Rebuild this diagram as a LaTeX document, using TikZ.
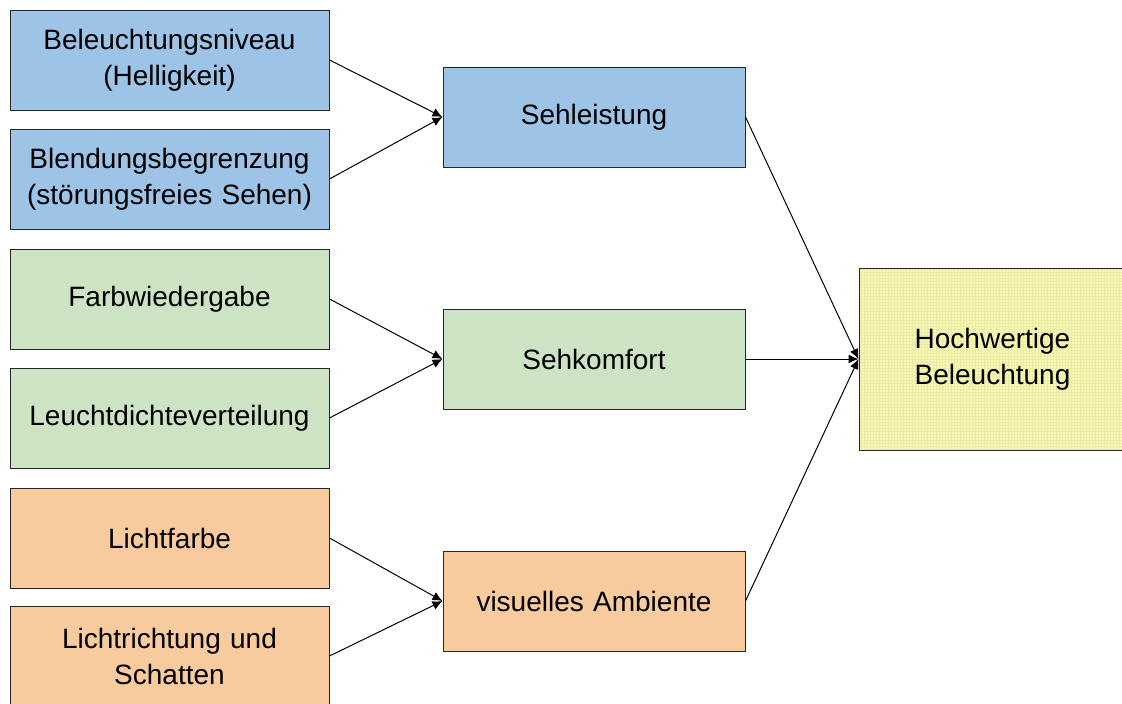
\documentclass[tikz,border=0pt]{standalone}
\usepackage{fontspec}
\setmainfont{Liberation Sans}
\usetikzlibrary{arrows.meta,patterns}
\definecolor{blaufill}{RGB}{157,195,230}
\definecolor{gruenfill}{RGB}{204,228,196}
\definecolor{orangefill}{RGB}{248,203,159}
\definecolor{gelbfill}{RGB}{248,248,186}
\definecolor{gelbgrid}{RGB}{236,236,160}
\tikzset{
    box/.style={draw=black!85,line width=1pt,align=center,inner sep=0pt,
        font=\fontsize{28}{36}\selectfont},
    faktor/.style={box,minimum width=319pt,minimum height=100pt,text width=310pt},
    ziel/.style={box,minimum width=302pt,minimum height=100pt,text width=290pt},
    pfeil/.style={line width=1pt,->}
}
\begin{document}
\begin{tikzpicture}[x=1pt,y=-1pt,>={Latex[length=10pt,width=9pt]}]
\useasboundingbox (0,0) rectangle (1122,704);
% linke Spalte
\node[faktor,fill=blaufill] (niveau) at (169.5,60) {Beleuchtungsniveau\\(Helligkeit)};
\node[faktor,fill=blaufill] (blendung) at (169.5,179) {Blendungsbegrenzung\\(störungsfreies Sehen)};
\node[faktor,fill=gruenfill] (farbwg) at (169.5,299) {Farbwiedergabe};
\node[faktor,fill=gruenfill] (leuchtd) at (169.5,418) {Leuchtdichteverteilung};
\node[faktor,fill=orangefill] (lfarbe) at (169.5,538) {Lichtfarbe};
\node[faktor,fill=orangefill] (lrichtung) at (169.5,656) {Lichtrichtung und\\Schatten};
% mittlere Spalte
\node[ziel,fill=blaufill] (sehl) at (594,117) {Sehleistung};
\node[ziel,fill=gruenfill] (sehk) at (594,359) {Sehkomfort};
\node[ziel,fill=orangefill] (ambiente) at (594,601) {visuelles Ambiente};
% rechts
\node[box,minimum width=267pt,minimum height=182pt,text width=250pt,
      preaction={fill=gelbfill},pattern=grid,pattern color=gelbgrid]
      (hoch) at (992.5,359) {Hochwertige\\Beleuchtung};
% Pfeile
\foreach \von/\nach in {niveau/sehl,blendung/sehl,farbwg/sehk,leuchtd/sehk,lfarbe/ambiente,lrichtung/ambiente}
{
    \draw[pfeil] (\von.east) -- (\nach.west);
}
\foreach \von in {sehl,sehk,ambiente}
{
    \draw[pfeil] (\von.east) -- (hoch.west);
}
\end{tikzpicture}
\end{document}
